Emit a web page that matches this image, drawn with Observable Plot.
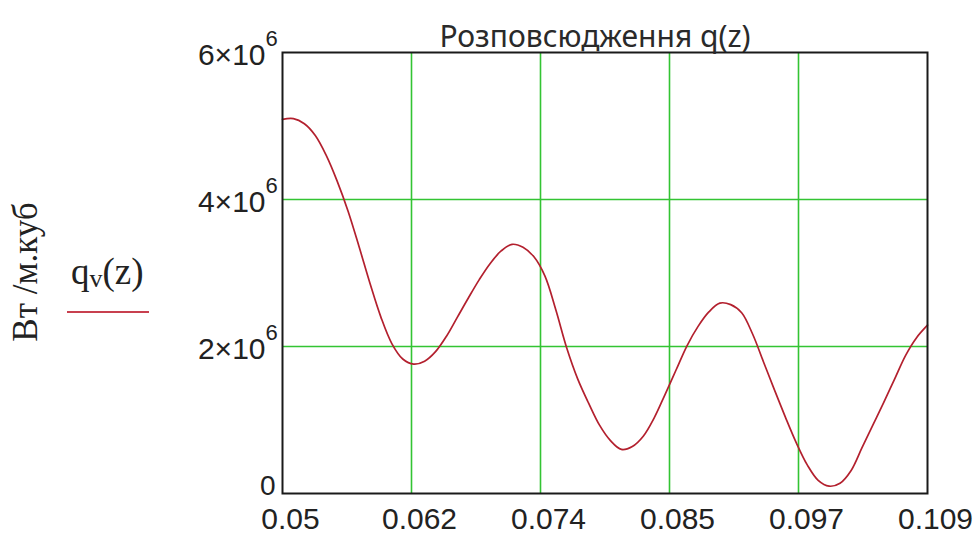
<!DOCTYPE html>
<html><head><meta charset="utf-8">
<script src="https://cdn.jsdelivr.net/npm/d3@7"></script>
<script src="https://cdn.jsdelivr.net/npm/@observablehq/plot@0.6"></script>
<style>html,body{margin:0;padding:0;background:#fff;} #chart{width:978px;height:537px;}</style>
</head><body><div id="chart"></div>
<script>
// ---- data ----
const title = "Розповсюдження q(z)";
const unitLabel = "Вт /м.куб";
const seriesParts = ["q", "v", "(z)"];

const zValues = [
  0.050,0.051,0.052,0.053,0.054,0.055,0.056,0.057,0.058,0.059,
  0.060,0.061,0.062,0.063,0.064,0.065,0.066,0.067,0.068,0.069,
  0.070,0.071,0.072,0.073,0.074,0.075,0.076,0.077,0.078,0.079,
  0.080,0.081,0.082,0.083,0.084,0.085,0.086,0.087,0.088,0.089,
  0.090,0.091,0.092,0.093,0.094,0.095,0.096,0.097,0.098,0.099,
  0.100,0.101,0.102,0.103,0.104,0.105,0.106,0.107,0.108,0.109
];
// q_v(z), in units of 10^6 W/m^3
const qValues = [
  5.09,5.10,5.03,4.87,4.60,4.25,3.84,3.36,2.86,2.40,
  2.04,1.83,1.76,1.80,1.93,2.14,2.40,2.66,2.91,3.13,
  3.30,3.39,3.35,3.22,2.96,2.50,1.98,1.56,1.23,0.93,
  0.72,0.60,0.64,0.78,1.03,1.35,1.68,2.01,2.27,2.47,
  2.59,2.57,2.46,2.17,1.79,1.41,1.04,0.69,0.39,0.18,
  0.10,0.14,0.31,0.62,0.93,1.24,1.56,1.88,2.12,2.29
];
const qScale = 1e6;

const xTicks = [0.05, 0.0618, 0.0736, 0.0854, 0.0972, 0.109];
const xTickLabels = ["0.05", "0.062", "0.074", "0.085", "0.097", "0.109"];
const yTicks = [0, 2e6, 4e6, 6e6];
const yTickBase = ["0", "2×10", "4×10", "6×10"];
const yTickExp = ["", "6", "6", "6"];

// ---- tables built from the arrays ----
const data = zValues.map((z, i) => ({z, q: qValues[i] * qScale}));
const xLab = xTicks.map((t, i) => ({t, label: xTickLabels[i]}));
const yLab = yTicks.map((t, i) => ({t, base: yTickBase[i], exp: yTickExp[i]}));

const sans = "'Liberation Sans', Arial, sans-serif";
const serif = "'Liberation Serif', 'Times New Roman', serif";
const curveColor = "#b3202e";
const gridColor = "#33c433";

function sideLabels() {
  const g = d3.create("svg:g");
  g.append("text")
    .attr("transform", "translate(25,272) rotate(-90)")
    .attr("text-anchor", "middle")
    .attr("dominant-baseline", "central")
    .attr("font-family", serif)
    .attr("font-size", 35)
    .attr("fill", "#222")
    .text(unitLabel);
  const t = g.append("text")
    .attr("x", 71).attr("y", 284)
    .attr("text-anchor", "start")
    .attr("font-family", serif)
    .attr("font-size", 37)
    .attr("fill", "#222");
  t.append("tspan").text(seriesParts[0]);
  t.append("tspan").attr("font-size", 26).attr("dy", 3).text(seriesParts[1]);
  t.append("tspan").attr("dy", -3).text(seriesParts[2]);
  g.append("line")
    .attr("x1", 67).attr("x2", 149).attr("y1", 312).attr("y2", 312)
    .attr("stroke", "#c8404f").attr("stroke-width", 2);
  return g.node();
}

const plot = Plot.plot({
  width: 978,
  height: 537,
  marginLeft: 282,
  marginRight: 51,
  marginTop: 52,
  marginBottom: 44,
  style: {background: "#fff", fontFamily: sans, color: "#222", overflow: "visible"},
  x: {domain: [0.05, 0.109], axis: null},
  y: {domain: [0, 6e6], axis: null},
  marks: [
    Plot.gridX(xTicks.slice(1, -1), {stroke: gridColor, strokeOpacity: 1, strokeWidth: 1.6}),
    Plot.gridY(yTicks.slice(1, -1), {stroke: gridColor, strokeOpacity: 1, strokeWidth: 1.6}),
    Plot.line(data, {x: "z", y: "q", stroke: curveColor, strokeWidth: 1.7, curve: "catmull-rom"}),
    Plot.frame({stroke: "#1a1a1a", strokeWidth: 2}),
    // x tick labels
    Plot.text(xLab, {x: "t", text: "label", frameAnchor: "bottom", lineAnchor: "top", dy: 14, dx: 8,
      fontSize: 30, fontFamily: sans, fill: "#222"}),
    // y tick labels: mantissa
    Plot.text(yLab.filter(d => d.exp), {y: "t", text: "base", frameAnchor: "left", textAnchor: "end",
      dx: -17, dy: 3, fontSize: 30, fontFamily: sans, fill: "#222"}),
    Plot.text(yLab.filter(d => !d.exp), {y: "t", text: "base", frameAnchor: "left", textAnchor: "end",
      dx: -7, dy: -7, fontSize: 28, fontFamily: sans, fill: "#222"}),
    // y tick labels: exponent
    Plot.text(yLab.filter(d => d.exp), {y: "t", text: "exp", frameAnchor: "left", textAnchor: "start",
      dx: -17, dy: -14, fontSize: 22, fontFamily: sans, fill: "#222"}),
    // title
    Plot.text([title], {frameAnchor: "top", text: d => d, dy: -27, dx: -10,
      fontSize: 30, fontFamily: "'Noto Sans', 'Open Sans', sans-serif", fill: "#2a2a2a"}),
    sideLabels
  ]
});
document.getElementById("chart").appendChild(plot);
</script>
</body></html>
